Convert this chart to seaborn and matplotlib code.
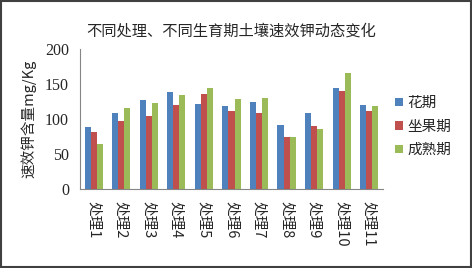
import matplotlib
matplotlib.use("Agg")
import matplotlib.pyplot as plt
import seaborn as sns
import pandas as pd
from matplotlib.patches import Rectangle

categories = ["处理1", "处理2", "处理3", "处理4", "处理5", "处理6", "处理7", "处理8", "处理9", "处理10", "处理11"]
series_names = ["花期", "坐果期", "成熟期"]
flower = [88, 108, 127, 138, 122, 118, 124, 92, 108, 144, 120]
fruit = [81, 97, 104, 120, 136, 112, 108, 75, 90, 140, 111]
mature = [64, 116, 123, 135, 145, 128, 130, 75, 86, 166, 118]
y_ticks = [0, 50, 100, 150, 200]
colors = ["#4F81BD", "#C0504D", "#9BBB59"]

rows = []
for name, vals in zip(series_names, [flower, fruit, mature]):
    for c, v in zip(categories, vals):
        rows.append({"处理": c, "时期": name, "值": v})
df = pd.DataFrame(rows)

sns.set_theme(style="white")
plt.rcParams['font.family'] = ['Noto Sans CJK SC', 'DejaVu Sans']

fig = plt.figure(figsize=(4.72, 2.68), dpi=100)
ax = fig.add_axes([0.1695, 0.2948, 0.6419, 0.5222])
sns.barplot(data=df, x="处理", y="值", hue="时期", palette=colors,
            width=0.66, ax=ax, saturation=1, edgecolor="none")

ax.set_ylim(0, 200)
ax.set_xlim(-0.5, len(categories) - 0.5)
ax.set_yticks(y_ticks)
ax.set_yticklabels([str(t) for t in y_ticks], family=['Liberation Serif'], fontsize=11.5)
ax.set_xticks(range(len(categories)))
ax.set_xticklabels(categories, rotation=-90, fontsize=10.5)
for lab in ax.get_xticklabels():
    lab.set_family(['Noto Sans CJK SC', 'Liberation Serif'])
ax.set_xlabel("")
ax.set_ylabel("速效钾含量mg/Kg", fontsize=10.5, labelpad=6)
ax.tick_params(axis='y', length=3, width=0.8, color="#868686", pad=5)
ax.tick_params(axis='x', length=0, pad=9)
for s in ["top", "right"]:
    ax.spines[s].set_visible(False)
ax.spines["left"].set_color("#868686")
ax.spines["bottom"].set_color("#868686")
ax.spines["left"].set_linewidth(0.8)
ax.spines["bottom"].set_linewidth(0.8)

ax.set_title("不同处理、不同生育期土壤速效钾动态变化", fontsize=11, pad=10)

leg = ax.legend(loc="center left", bbox_to_anchor=(0.995, 0.445), frameon=False,
                fontsize=10.5, handlelength=0.55, handleheight=0.55, handletextpad=0.35,
                labelspacing=0.65)

fig.patches.append(Rectangle((0.003, 0.005), 0.994, 0.99, transform=fig.transFigure,
                             fill=False, edgecolor="#404040", linewidth=1.5))

fig.savefig("out.png", dpi=100)
